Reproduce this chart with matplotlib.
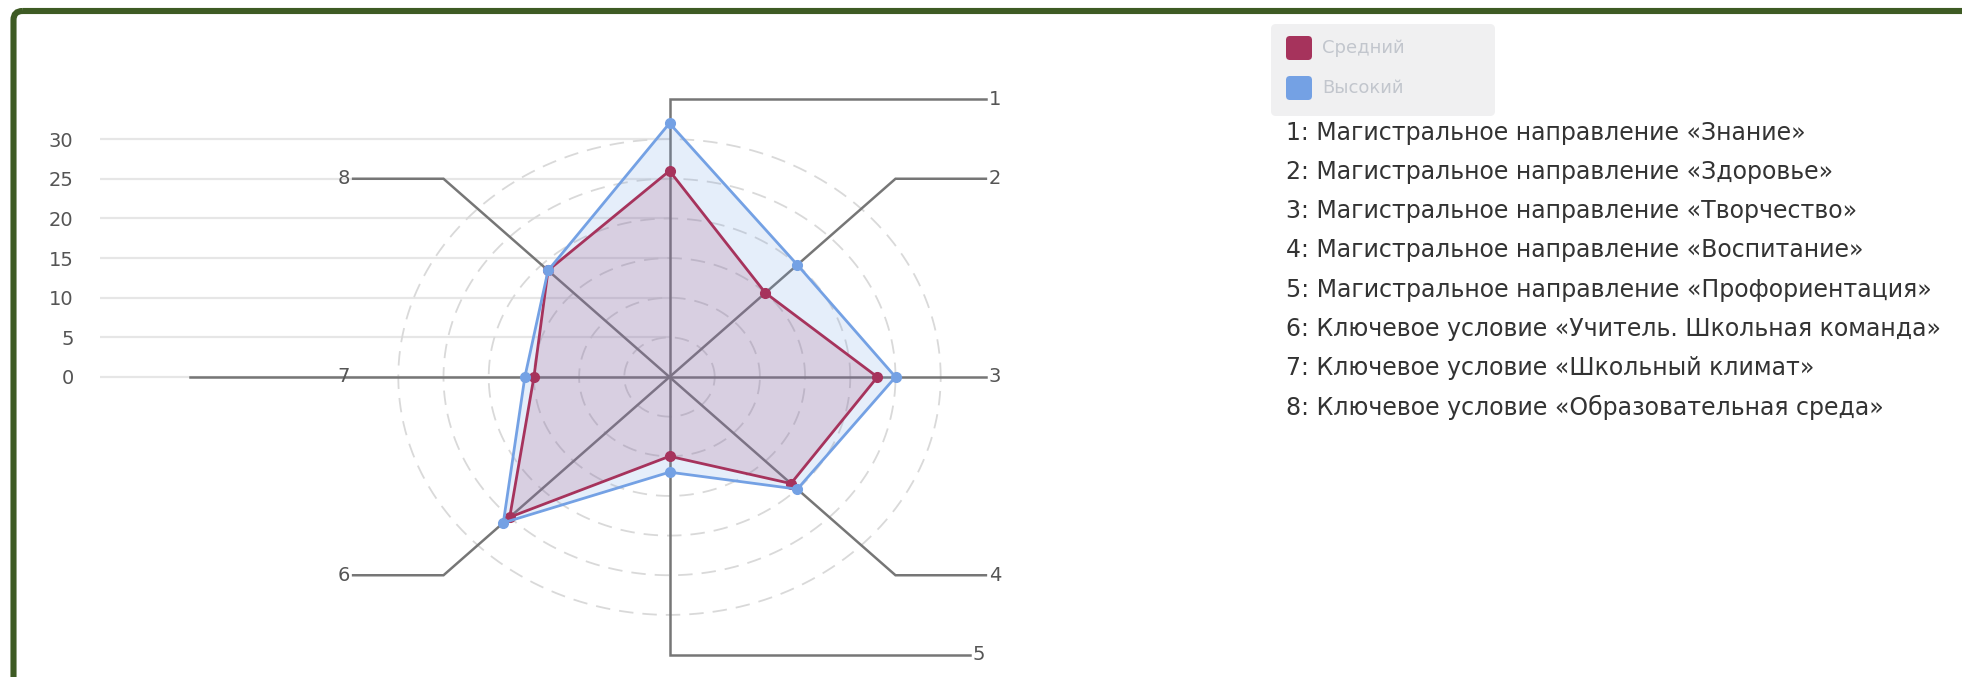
import numpy as np
import matplotlib
matplotlib.use("Agg")
import matplotlib.pyplot as plt
from matplotlib.patches import FancyBboxPatch

# data
axes_ids = ["1", "2", "3", "4", "5", "6", "7", "8"]
series_names = ["Средний", "Высокий"]
medium = [26, 15, 23, 19, 10, 25, 15, 19]
high = [32, 20, 25, 20, 12, 26, 16, 19]
y_ticks = [0, 5, 10, 15, 20, 25, 30]
ring_levels = [5, 10, 15, 20, 25, 30]
descriptions = [
    "1: Магистральное направление «Знание»",
    "2: Магистральное направление «Здоровье»",
    "3: Магистральное направление «Творчество»",
    "4: Магистральное направление «Воспитание»",
    "5: Магистральное направление «Профориентация»",
    "6: Ключевое условие «Учитель. Школьная команда»",
    "7: Ключевое условие «Школьный климат»",
    "8: Ключевое условие «Образовательная среда»",
]

RED = "#a6335c"
BLUE = "#74a1e4"
GRID = "#767676"
FRAME = "#3e5b24"

W, H = 1962, 677
fig = plt.figure(figsize=(W / 100, H / 100), dpi=100)
fig.patch.set_facecolor("white")

# radar drawn in cartesian axes (the original is stretched horizontally)
left_px = 100
ax = fig.add_axes([left_px / W, 0, 1 - left_px / W, 1])
cx, cy = 669.5, 377.0
kx, ky = 9.04, 7.93
ax.set_xlim((left_px - cx) / kx, (W - cx) / kx)
ax.set_ylim((cy - H) / ky, cy / ky)
ax.patch.set_alpha(0)
for s in ax.spines.values():
    s.set_visible(False)
ax.set_xticks([])
ax.set_yticks(y_ticks)
ax.tick_params(axis="y", length=0, pad=19, labelsize=14, labelcolor="#555555")

# horizontal grid lines on the left half
ax.hlines(y_ticks, ax.get_xlim()[0], 0, color="#e6e6e6", lw=1.6, zorder=0)

# dashed rings
t = np.linspace(0, 2 * np.pi, 400)
for r in ring_levels:
    ax.plot(r * np.cos(t), r * np.sin(t), color="#d9d9d9", lw=1.3,
            dashes=(8, 5), zorder=1)

# spokes with leader lines to the numbers
leaders = [
    [(0, 0), (0, 35), (35, 35)],
    [(0, 0), (25, 25), (35, 25)],
    [(0, 0), (35, 0)],
    [(0, 0), (25, -25), (35, -25)],
    [(0, 0), (0, -35), (33.2, -35)],
    [(0, 0), (-25, -25), (-35, -25)],
    [(0, 0), (-53, 0)],
    [(0, 0), (-25, 25), (-35, 25)],
]
for name, path in zip(axes_ids, leaders):
    xs, ys = zip(*path)
    ax.plot(xs, ys, color=GRID, lw=1.8, zorder=2, solid_joinstyle="miter")
    ex, ey = path[-1]
    if name == "7":
        ax.text(-36.1, ey, name, ha="center", va="center", fontsize=14,
                color="#555555", zorder=3)
    elif ex > 0:
        ax.text(ex + 0.3, ey, name, ha="left", va="center", fontsize=14,
                color="#555555", zorder=3)
    else:
        ax.text(ex - 0.3, ey, name, ha="right", va="center", fontsize=14,
                color="#555555", zorder=3)

theta = np.deg2rad(90 - 45 * np.arange(len(axes_ids)))
for vals, col, z in [(high, BLUE, 5), (medium, RED, 4)]:
    v = np.array(vals + vals[:1], dtype=float)
    th = np.concatenate([theta, theta[:1]])
    x = v * np.cos(th)
    y = v * np.sin(th)
    ax.fill(x, y, color=col, alpha=0.18, lw=0, zorder=z - 2)
    ax.plot(x, y, color=col, lw=2.0, zorder=z)
    ax.plot(x[:-1], y[:-1], "o", color=col, ms=7, zorder=z + 0.5)

# overlay in pixel coordinates for frame, legend and description list
ov = fig.add_axes([0, 0, 1, 1])
ov.set_xlim(0, W)
ov.set_ylim(H, 0)
ov.axis("off")
ov.patch.set_alpha(0)

ov.add_patch(FancyBboxPatch((13.5, 11), W + 60, H + 60,
                            boxstyle="round,pad=0,rounding_size=9",
                            fc="none", ec=FRAME, lw=4.4))

ov.add_patch(FancyBboxPatch((1271, 24), 224, 92,
                            boxstyle="round,pad=0,rounding_size=5",
                            fc="#f0f0f1", ec="none"))
for i, (nm, col) in enumerate(zip(series_names, [RED, BLUE])):
    yy = 48 + 40 * i
    ov.add_patch(FancyBboxPatch((1286, yy - 12), 26, 24,
                                boxstyle="round,pad=0,rounding_size=4",
                                fc=col, ec="none"))
    ov.text(1322, yy, nm, ha="left", va="center", fontsize=13,
            color="#c2c6cd")

for i, line in enumerate(descriptions):
    ov.text(1286, 133 + 39.15 * i, line, ha="left", va="center",
            fontsize=17, color="#333333")

fig.savefig("out.png", dpi=100)
